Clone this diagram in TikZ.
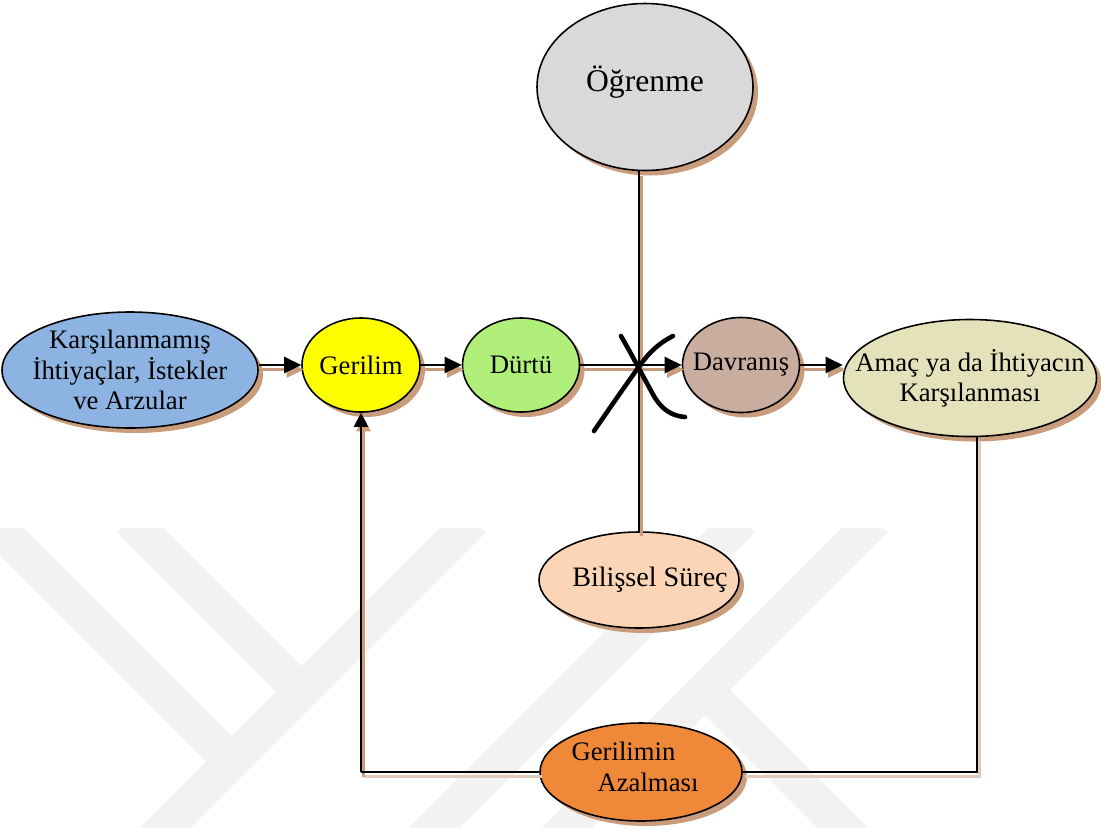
\documentclass[tikz,border=0pt]{standalone}
\usepackage{fontspec}
\setmainfont{Liberation Serif}
\usetikzlibrary{shapes.geometric,shadows,arrows.meta}

\definecolor{golge}{RGB}{201,157,124}
\definecolor{acikgolge}{RGB}{226,203,184}
\definecolor{filigran}{RGB}{242,242,242}
\definecolor{mavi}{RGB}{141,179,226}
\definecolor{sari}{RGB}{255,255,0}
\definecolor{yesil}{RGB}{176,240,122}
\definecolor{kahve}{RGB}{201,174,160}
\definecolor{haki}{RGB}{228,226,186}
\definecolor{gri}{RGB}{217,217,217}
\definecolor{seftali}{RGB}{251,213,181}
\definecolor{turuncu}{RGB}{239,137,57}

\tikzset{
	oval/.style={ellipse, draw=black, line width=0.45pt, fill=#1, inner sep=0pt,
		drop shadow={shadow xshift=0.5mm, shadow yshift=-0.5mm, fill=golge, opacity=1}},
	yazi/.style={font=\fontsize{7.6}{8.6}\selectfont, align=center, inner sep=0pt},
	ok/.style={line width=0.7pt, -{Triangle[length=1.7mm,width=1.6mm]}},
	golgeli/.style={draw=#1, transform canvas={xshift=0.25mm, yshift=-0.45mm}},
	ince/.style={line width=0.4pt}
}

\begin{document}
\begin{tikzpicture}[x=0.1mm, y=-0.1mm]
	\useasboundingbox (0,0) rectangle (1101,827);

	% filigran
	\begin{scope}
		\clip (0,528) rectangle (1101,827);
		\foreach \a/\b/\c/\d in {-10/520/235/765, 130/520/300/690, 473/520/150/843,
			742/520/420/842, 875/520/550/845, 705/690/880/865}
			\draw[filigran, line width=3.6mm] (\a,\b) -- (\c,\d);
	\end{scope}

	% dugumler
	\node[oval=mavi, minimum width=25.6mm, minimum height=11.6mm,
		label={[yazi]center:{Karşılanmamış\\İhtiyaçlar, İstekler\\ve Arzular}}] (karsi) at (130,370) {};
	\node[oval=sari, minimum width=11.8mm, minimum height=9.4mm,
		label={[yazi]center:Gerilim}] (gerilim) at (361,365) {};
	\node[oval=yesil, minimum width=11.7mm, minimum height=9.4mm,
		label={[yazi]center:Dürtü}] (durtu) at (521,365) {};
	\node[oval=kahve, minimum width=11.7mm, minimum height=9.5mm,
		label={[yazi]center:Davranış}] (davranis) at (741,365) {};
	\node[oval=haki, minimum width=25.3mm, minimum height=11.7mm,
		label={[yazi]center:{Amaç ya da İhtiyacın\\Karşılanması}}] (amac) at (970,378) {};
	\node[oval=gri, minimum width=21.6mm, minimum height=16.7mm,
		label={[yazi, font=\fontsize{9}{10}\selectfont, yshift=0.5mm]center:Öğrenme}] (ogrenme) at (645,87) {};
	\node[oval=seftali, minimum width=20mm, minimum height=9.6mm,
		label={[yazi, font=\fontsize{8}{10}\selectfont, xshift=1.1mm]center:Bilişsel Süreç}] (bilissel) at (639,580) {};
	\node[oval=turuncu, minimum width=20.2mm, minimum height=9.8mm,
		label={[yazi, align=left, font=\fontsize{7.6}{9}\selectfont, xshift=-0.6mm, yshift=0.5mm]center:{Gerilimin\\\hspace*{2.6mm}Azalması}}] (azalma) at (641,772) {};

	\coordinate (kose) at (gerilim.south |- azalma.west);

	% golgeler
	\draw[ok, golgeli=golge] (karsi.east |- gerilim.west) -- (gerilim.west);
	\draw[ok, golgeli=golge] (gerilim.east) -- (durtu.west);
	\draw[ok, golgeli=golge] (durtu.east) -- (davranis.west);
	\draw[ok, golgeli=golge] (davranis.east) -- (davranis.east -| amac.west);
	\draw[golgeli=golge, line width=0.6pt] (ogrenme.south -| bilissel.north) -- (bilissel.north);
	\draw[golgeli=acikgolge, line width=0.8pt] ([xshift=0.7mm]amac.south) |- (azalma.east);
	\draw[golgeli=acikgolge, line width=0.8pt] (azalma.west) -- (kose);
	\draw[golgeli=golge, line width=0.6pt, -{Triangle[length=1.4mm,width=1.4mm]}] (kose) -- (gerilim.south);

	% oklar
	\draw[ok] (karsi.east |- gerilim.west) -- (gerilim.west);
	\draw[ok] (gerilim.east) -- (durtu.west);
	\draw[ok] (durtu.east) -- (davranis.west);
	\draw[ok] (davranis.east) -- (davranis.east -| amac.west);
	\draw[line width=0.6pt] (ogrenme.south -| bilissel.north) -- (bilissel.north);
	\draw[ince] ([xshift=0.7mm]amac.south) |- (azalma.east);
	\draw[ince] (azalma.west) -- (kose);
	\draw[line width=0.6pt, -{Triangle[length=1.4mm,width=1.4mm]}] (kose) -- (gerilim.south);

	% carpi isareti
	\draw[line width=1.3pt, line cap=round] (621,336) .. controls (632,355) and (645,380) .. (655,398)
		.. controls (663,410) and (672,416) .. (685,417);
	\draw[line width=1.3pt, line cap=round] (673,336) .. controls (655,345) and (645,358) .. (638,368)
		.. controls (620,393) and (605,415) .. (594,431);
\end{tikzpicture}
\end{document}
